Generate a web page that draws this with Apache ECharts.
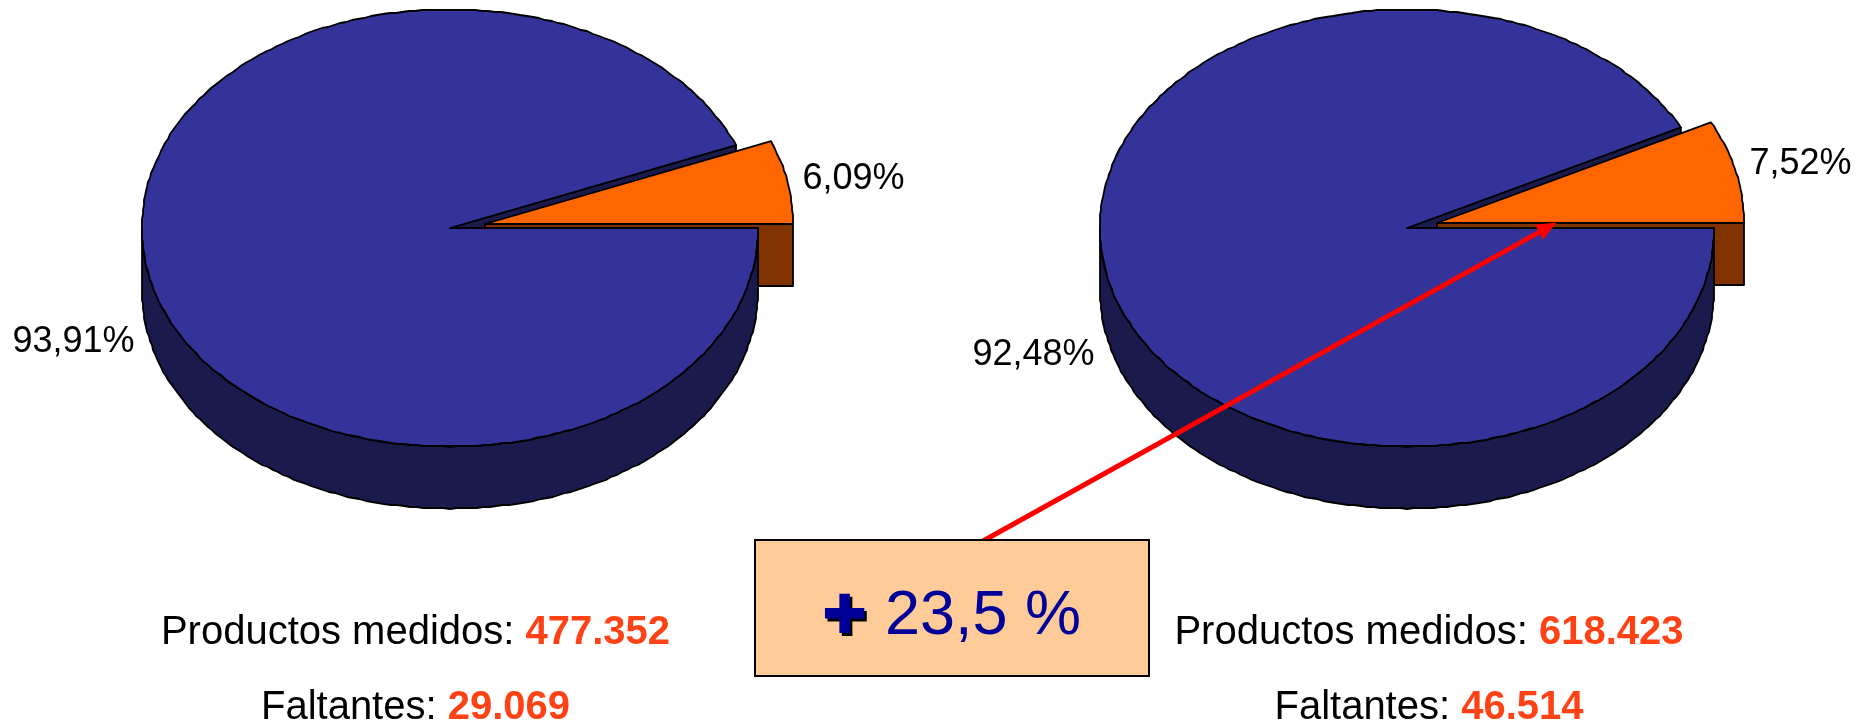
<!DOCTYPE html>
<html><head><meta charset="utf-8">
<style>html,body{margin:0;padding:0;background:#fff}#c{width:1872px;height:727px}</style>
<script src="https://cdn.jsdelivr.net/npm/echarts@6/dist/echarts.min.js"></script>
</head><body><div id="c"></div>
<script>
// data
const mainShares = [93.91, 92.48];
const missingShares = [6.09, 7.52];
const measuredLabel = 'Productos medidos: ';
const missingLabel = 'Faltantes: ';
const measuredValues = ['477.352', '618.423'];
const missingValues = ['29.069', '46.514'];
const growthSign = '\u271A';
const growthText = '23,5 %';

// layout
const F = '"Liberation Sans", Arial, sans-serif';
const RY = 218.5, DEPTH = 62, SHAPE = 2 / 2.03;
const pieLayout = [
  {cx: 450, cy: 228, rx: 308, ox: 485, oy: 224, mainLabel: [73.5, 342], missLabel: [853.5, 179]},
  {cx: 1407, cy: 228, rx: 307, ox: 1437, oy: 223, mainLabel: [1033.5, 355], missLabel: [1800.5, 164]}
];
const textCenters = [415.5, 1429];
const C = {blue:'#333399', navy:'#1A1A4D', orange:'#FF6600', brown:'#803300', val:'#FF4116'};

function pt(cx, cy, rx, deg, dy) {
  const t = deg * Math.PI / 180, co = Math.cos(t), si = Math.sin(t);
  const x = Math.sign(co) * Math.pow(Math.abs(co), SHAPE), y = Math.sign(si) * Math.pow(Math.abs(si), SHAPE);
  return [cx + rx * x, cy - RY * y + (dy || 0)];
}
function arc(cx, cy, rx, a, b, dy) {
  // the reference's rim is a fine, pixel-stepped outline
  const out = [], n = Math.max(2, Math.ceil(Math.abs(b - a) / 1.2));
  for (let i = 0; i <= n; i++) {
    const p = pt(cx, cy, rx, a + (b - a) * i / n, dy);
    out.push(i === 0 || i === n ? p : [Math.round(p[0]), Math.round(p[1])]);
  }
  return out;
}
const edge = {stroke: '#000', lineWidth: 1.8, lineJoin: 'round'};
function poly(points, fill) {
  return {type: 'polygon', shape: {points}, style: Object.assign({fill}, edge)};
}
function label(pos, text) {
  return {type: 'text', x: pos[0], y: pos[1], style: {text, fontFamily: F, fontSize: 36, fill: '#000', textAlign: 'center', textVerticalAlign: 'middle'}};
}
const fmt = v => v.toFixed(2).replace('.', ',') + '%';

function renderPie(params, api) {
  const L = pieLayout[api.value(0)];
  const main = api.value(1), miss = api.value(2);
  const cut = miss * 3.6;
  const c = [L.cx, L.cy], o = [L.ox, L.oy];
  const blueTip = pt(L.cx, L.cy, L.rx, cut);
  const orangeEnd = pt(L.ox, L.oy, L.rx, 0);
  const kids = [
    // inner wall of the main slice
    poly([c, blueTip, [blueTip[0], blueTip[1] + DEPTH], [c[0], c[1] + DEPTH]], C.navy),
    // cut face of the missing slice
    poly([o, orangeEnd, [orangeEnd[0], orangeEnd[1] + DEPTH], [o[0], o[1] + DEPTH]], C.brown),
    // top of the missing slice
    poly([o].concat(arc(L.ox, L.oy, L.rx, 0, cut)), C.orange),
    // outer wall of the main slice
    poly(arc(L.cx, L.cy, L.rx, 180, 360).concat(arc(L.cx, L.cy, L.rx, 360, 180, DEPTH)), C.navy),
    // top of the main slice
    poly([c].concat(arc(L.cx, L.cy, L.rx, cut, 360)), C.blue),
    label(L.mainLabel, fmt(main)),
    label(L.missLabel, fmt(miss))
  ];
  return {type: 'group', children: kids};
}

function statText(x, y, lab, val) {
  return {type: 'text', z: 100, x, y, style: {
    text: '{a|' + lab + '}{b|' + val + '}',
    align: 'center', verticalAlign: 'middle',
    rich: {
      a: {fontFamily: F, fontSize: 40, fill: '#000', color: '#000'},
      b: {fontFamily: F, fontSize: 40, fontWeight: 'bold', fill: C.val, color: C.val}
    }
  }};
}
const tail = [983, 541], tip = [1556.5, 222.5];
const ang = Math.atan2(tip[1] - tail[1], tip[0] - tail[0]);
function off(len, side) {
  return [tip[0] - len * Math.cos(ang) - side * Math.sin(ang), tip[1] - len * Math.sin(ang) + side * Math.cos(ang)];
}
function signText(x, y, fill, z) {
  return {type: 'text', z, x, y, style: {text: growthSign, fontFamily: 'DejaVu Sans', fontSize: 54, fill, align: 'center', verticalAlign: 'middle'}};
}
const graphics = [
  {type: 'line', z: 100, shape: {x1: tail[0], y1: tail[1], x2: off(12, 0)[0], y2: off(12, 0)[1]}, style: {stroke: '#FF0000', lineWidth: 5}},
  {type: 'polygon', z: 100, shape: {points: [tip, off(20, 8.5), off(20, -8.5)]}, style: {fill: '#FF0000'}},
  {type: 'rect', z: 101, shape: {x: 755, y: 540, width: 394, height: 136}, style: {fill: '#FFCC99', stroke: '#000', lineWidth: 2}},
  signText(847, 621.5, '#000', 102),
  signText(844.5, 619, '#000099', 103),
  {type: 'text', z: 102, x: 983, y: 617, style: {text: growthText, fontFamily: F, fontSize: 63, fill: '#000099', align: 'center', verticalAlign: 'middle'}}
];
textCenters.forEach((x, i) => {
  graphics.push(statText(x, 633, measuredLabel, measuredValues[i]));
  graphics.push(statText(x, 707.5, missingLabel, missingValues[i]));
});

const chart = echarts.init(document.getElementById('c'), null, {renderer: 'canvas'});
chart.setOption({
  backgroundColor: '#fff',
  animation: false,
  graphic: graphics,
  series: [{
    type: 'custom',
    coordinateSystem: 'none',
    silent: true,
    renderItem: renderPie,
    data: mainShares.map((m, i) => [i, m, missingShares[i]])
  }]
});
</script></body></html>
